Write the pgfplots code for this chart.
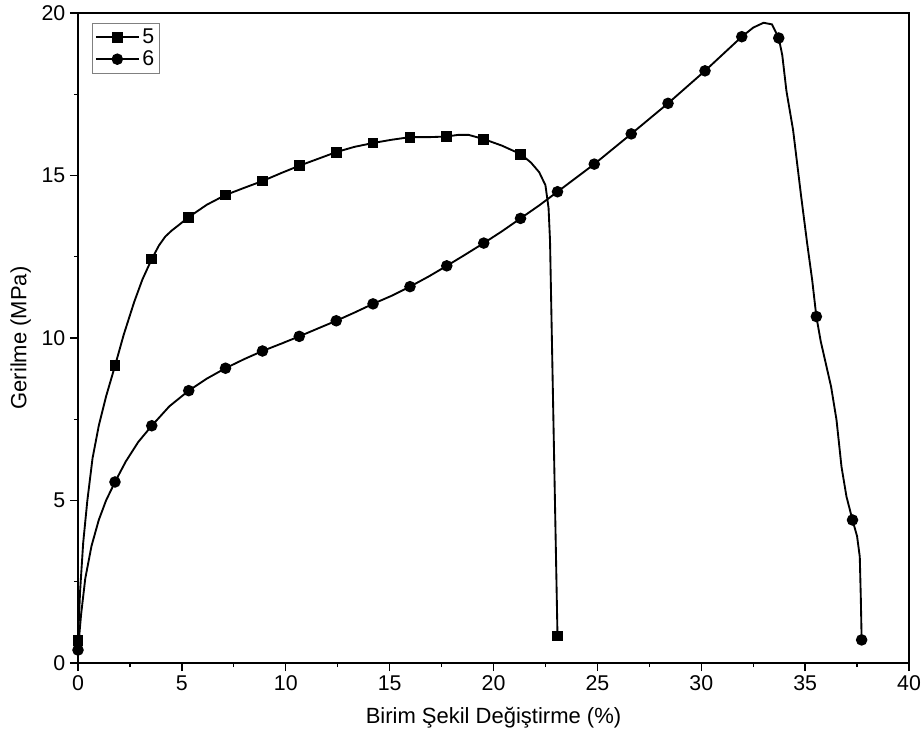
\documentclass[border=0pt]{standalone}
\usepackage{pgfplots}
\pgfplotsset{compat=1.18}
\usepackage{fontspec}
\setmainfont{Liberation Sans}
\begin{document}
\begin{tikzpicture}
\begin{axis}[
  width=623.25pt, height=487.5pt, scale only axis,
  xmin=0, xmax=40, ymin=0, ymax=20,
  xtick={0,5,...,40}, ytick={0,5,...,20},
  minor tick num=1,
  tick align=outside, xtick pos=bottom, ytick pos=left,
  major tick length=6pt, minor tick length=3pt,
  every tick/.style={black, line width=1pt},
  axis line style={black, line width=1.2pt},
  /pgf/number format/assume math mode=true,
  tick label style={font=\fontsize{16}{19}\selectfont},
  every axis x label/.style={at={(rel axis cs:0.5,0)},yshift=-41pt,anchor=center,font=\fontsize{16.5}{19}\selectfont},
  every axis y label/.style={at={(rel axis cs:0,0.5)},xshift=-43pt,rotate=90,anchor=center,font=\fontsize{16.5}{19}\selectfont},
  xlabel={Birim Şekil Değiştirme (\%)},
  ylabel={Gerilme (MPa)},
  clip=false,
  legend style={at={(rel axis cs:0,1)}, anchor=north west, xshift=10.5pt, yshift=-7.5pt,
     draw=gray, line width=0.6pt, font=\fontsize{16}{19}\selectfont,
     inner xsep=2pt, inner ysep=2pt, row sep=0pt, cells={anchor=west}},
  legend image code/.code={
    \draw[#1, mark=none] (0pt,0pt) -- (32pt,0pt);
    \draw[#1, only marks] plot coordinates {(16pt,0pt)};
  },
]
% series 5 line
\addplot[black, line width=1.4pt, mark=none, forget plot] coordinates {
(0,0.7)(0.1,2.2)(0.25,3.7)(0.45,5.0)(0.7,6.3)(1.0,7.3)(1.35,8.2)(1.78,9.14)(2.2,10.1)(2.7,11.1)(3.1,11.8)(3.55,12.43)(3.9,12.85)(4.2,13.12)(4.5,13.3)(4.9,13.5)(5.33,13.72)(6.2,14.1)(7.1,14.4)(8.0,14.62)(8.88,14.83)(9.8,15.08)(10.65,15.3)(11.5,15.5)(12.43,15.72)(13.3,15.88)(14.2,16.0)(15.1,16.1)(15.98,16.18)(16.9,16.18)(17.75,16.2)(18.3,16.25)(18.8,16.25)(19.53,16.12)(20.4,15.92)(21.3,15.66)(21.8,15.4)(22.2,15.1)(22.5,14.7)(22.65,14.0)(22.72,13.0)(22.75,12.0)(23.08,0.83)
};
% series 6 line
\addplot[black, line width=1.4pt, mark=none, forget plot] coordinates {
(0,0.4)(0.15,1.5)(0.35,2.6)(0.65,3.6)(1.0,4.4)(1.35,5.0)(1.78,5.57)(2.3,6.2)(2.9,6.8)(3.55,7.3)(4.4,7.9)(5.33,8.38)(6.2,8.75)(7.1,9.07)(8.0,9.35)(8.88,9.6)(9.8,9.83)(10.65,10.05)(11.5,10.28)(12.43,10.53)(13.3,10.78)(14.2,11.05)(15.1,11.3)(15.98,11.58)(16.9,11.9)(17.75,12.22)(18.6,12.55)(19.53,12.92)(20.4,13.28)(21.3,13.68)(22.2,14.08)(23.08,14.5)(24.85,15.35)(26.63,16.28)(28.4,17.22)(30.18,18.22)(31.95,19.27)(32.5,19.55)(33.0,19.7)(33.4,19.65)(33.73,19.23)(33.9,18.7)(34.1,17.6)(34.42,16.4)(34.8,14.4)(35.1,12.9)(35.34,11.78)(35.54,10.66)(35.75,9.9)(36.0,9.2)(36.25,8.5)(36.51,7.48)(36.75,6.04)(36.99,5.12)(37.28,4.4)(37.5,3.9)(37.63,3.27)(37.68,2.0)(37.72,0.71)
};
% markers
\addplot[black, line width=1.4pt, only marks, mark=square*, mark size=3.4pt] coordinates {
(0,0.7)(1.78,9.14)(3.55,12.43)(5.33,13.72)(7.1,14.4)(8.88,14.83)(10.65,15.3)(12.43,15.72)(14.2,16.0)(15.98,16.18)(17.75,16.2)(19.53,16.12)(21.3,15.66)(23.08,0.83)
};
\addlegendentry{5}
\addplot[black, line width=1.4pt, only marks, mark=*, mark size=3.6pt] coordinates {
(0,0.4)(1.78,5.57)(3.55,7.3)(5.33,8.38)(7.1,9.07)(8.88,9.6)(10.65,10.05)(12.43,10.53)(14.2,11.05)(15.98,11.58)(17.75,12.22)(19.53,12.92)(21.3,13.68)(23.08,14.5)(24.85,15.35)(26.63,16.28)(28.4,17.22)(30.18,18.22)(31.95,19.27)(33.73,19.23)(35.54,10.66)(37.28,4.4)(37.72,0.71)
};
\addlegendentry{6}
\end{axis}
\pgfresetboundingbox
\useasboundingbox ([xshift=-58.5pt,yshift=-59.25pt]current axis.south west) rectangle ([xshift=9.75pt,yshift=9.75pt]current axis.north east);
\end{tikzpicture}
\end{document}
